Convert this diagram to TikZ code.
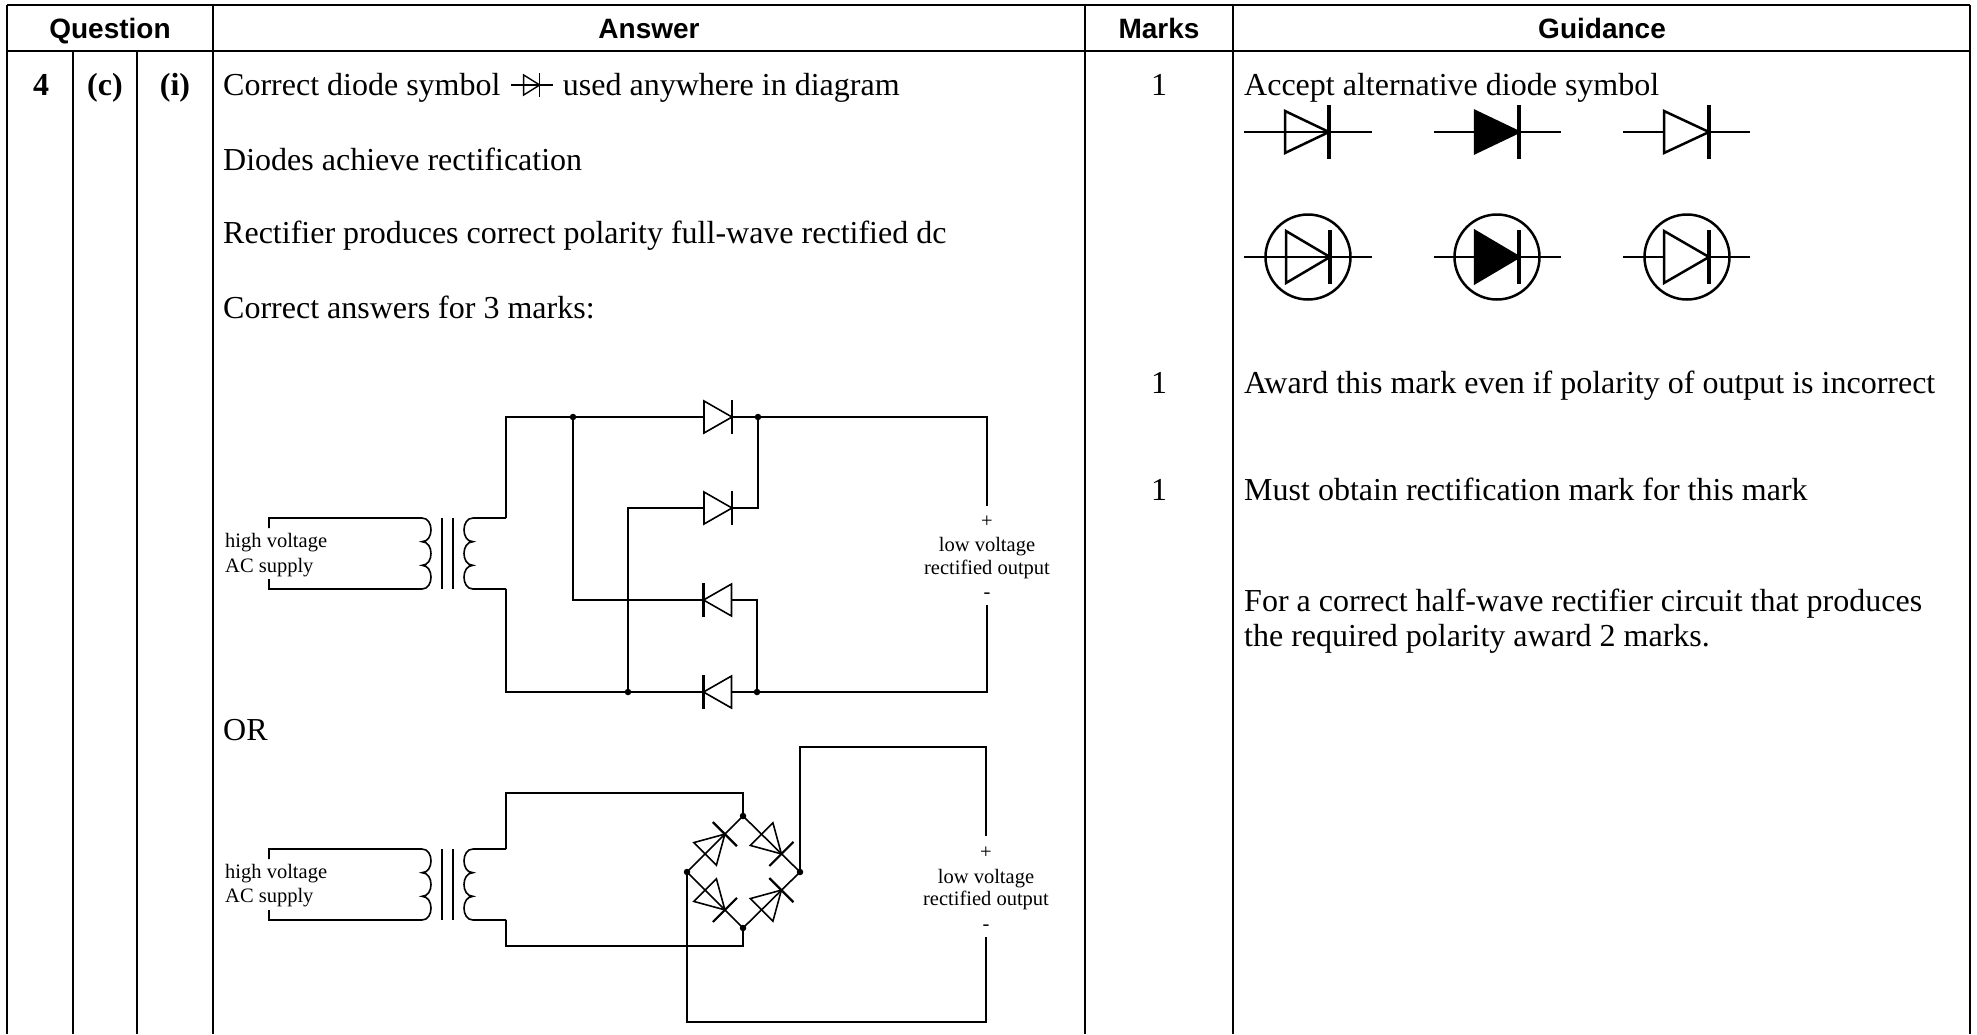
\documentclass[tikz,border=0pt]{standalone}
\usepackage{fontspec}
\setmainfont{Liberation Serif}
\newfontfamily\hdrfont{Liberation Sans}
\usetikzlibrary{calc}
\tikzset{
  pics/cdio/.style={code={
    \draw[line width=1.6pt,line join=miter] (-14,-16) -- (-14,16) -- (14,0) -- cycle;
    \draw[line width=2.2pt] (14,-17) -- (14,17);
  }}
}
\newcommand\drawxfmr[2]{%
  \begin{scope}[shift={(0,#1)}]
    \draw[wire] (269,10) -- (269,0) -- (422,0)
      .. controls (434,0) and (434,23.667) .. (422,23.667)
      .. controls (434,23.667) and (434,47.333) .. (422,47.333)
      .. controls (434,47.333) and (434,71) .. (422,71)
      -- (269,71) -- (269,61);
    \draw[wire] (442,0) -- (442,71);
    \draw[wire] (453,0) -- (453,71);
    \coordinate (#2t) at (506,0);
    \coordinate (#2b) at (506,71);
    \draw[wire] (#2t) -- (473,0)
      .. controls (461,0) and (461,23.667) .. (473,23.667)
      .. controls (461,23.667) and (461,47.333) .. (473,47.333)
      .. controls (461,47.333) and (461,71) .. (473,71)
      -- (#2b);
  \end{scope}}
\begin{document}
\begin{tikzpicture}[x=1pt,y=-1pt,
  tbl/.style={line width=2.2pt},
  wire/.style={line width=1.6pt},
  sym/.style={line width=2.5pt},
  symbar/.style={line width=3.2pt},
  body/.style={font=\fontsize{32}{38}\selectfont,inner sep=0pt,anchor=base west},
  bodyc/.style={font=\fontsize{32}{38}\selectfont,inner sep=0pt,anchor=base},
  bodyb/.style={font=\fontsize{32}{38}\selectfont\bfseries,inner sep=0pt,anchor=base},
  hdr/.style={font=\hdrfont\bfseries\fontsize{28}{32}\selectfont,inner sep=0pt,anchor=base},
  lab/.style={font=\fontsize{20.5}{25}\selectfont,inner sep=0pt},
  jdot/.style={circle,fill,inner sep=0pt,minimum size=6.5pt},
]
\fill[white] (0,0) rectangle (1977,1034);
\useasboundingbox (0,0) rectangle (1977,1034);

% ---------- table ----------
\draw[tbl] (7,5) -- (1970,5);
\draw[tbl] (7,51) -- (1970,51);
\foreach \x in {7,213,1085,1233,1970} \draw[tbl] (\x,5) -- (\x,1034);
\foreach \x in {73,137} \draw[tbl] (\x,51) -- (\x,1034);

\node[hdr] (hq) at (110,38) {Question};
\node[hdr] (ha) at (649,38) {Answer};
\node[hdr] (hm) at (1159,38) {Marks};
\node[hdr] (hg) at (1602,38) {Guidance};

\node[bodyb] (q4) at (41,95) {4};
\node[bodyb] (qc) at (105,95) {(c)};
\node[bodyb] (qi) at (175,95) {(i)};

% ---------- answer text ----------
\node[body] (a1) at (223,95) {Correct diode symbol};
\coordinate (is) at ([xshift=10pt,yshift=10pt]a1.base east);
\coordinate (ie) at ([xshift=42pt]is);
\draw[line width=1.4pt] (is) -- (ie);
\draw[line width=1.4pt] ([xshift=13pt,yshift=10pt]is) -- ([xshift=13pt,yshift=-10pt]is) -- ([xshift=29pt]is) -- cycle;
\draw[line width=1.6pt] ([xshift=29pt,yshift=12pt]is) -- ([xshift=29pt,yshift=-12pt]is);
\node[body] (a1b) at ([xshift=62pt]a1.base east) {used anywhere in diagram};
\node[body] (a2) at (223,170) {Diodes achieve rectification};
\node[body] (a3) at (223,243) {Rectifier produces correct polarity full-wave rectified dc};
\node[body] (a4) at (223,318) {Correct answers for 3 marks:};
\node[body] (aor) at (223,740) {OR};

% ---------- marks ----------
\node[bodyc] (m1) at (1159,95) {1};
\node[bodyc] (m2) at (1159,393) {1};
\node[bodyc] (m3) at (1159,500) {1};

% ---------- guidance ----------
\node[body] (g1) at (1244,95) {Accept alternative diode symbol};
\node[body] (g2) at (1244,393) {Award this mark even if polarity of output is incorrect};
\node[body] (g3) at (1244,500) {Must obtain rectification mark for this mark};
\node[body] (g4) at (1244,611) {For a correct half-wave rectifier circuit that produces};
\node[body] (g5) at (1244,646) {the required polarity award 2 marks.};

% guidance symbols row 1
\draw[sym] (1244,132) -- (1372,132);
\draw[sym] (1285,111) -- (1285,153) -- (1329,132) -- cycle;
\draw[symbar] (1329,105) -- (1329,159);
\draw[sym] (1434,132) -- (1475,132);
\draw[sym] (1519,132) -- (1561,132);
\fill (1475,111) -- (1475,153) -- (1519,132) -- cycle;
\draw[sym] (1475,111) -- (1475,153) -- (1519,132) -- cycle;
\draw[symbar] (1519,105) -- (1519,159);
\draw[sym] (1623,132) -- (1664,132);
\draw[sym] (1709,132) -- (1750,132);
\draw[sym] (1664,111) -- (1664,153) -- (1709,132) -- cycle;
\draw[symbar] (1709,105) -- (1709,159);
% guidance symbols row 2
\draw[sym] (1244,257) -- (1372,257);
\draw[sym] (1308,257) circle[radius=42.5];
\draw[sym] (1286,231) -- (1286,283) -- (1330,257) -- cycle;
\draw[symbar] (1330,230) -- (1330,284);
\draw[sym] (1434,257) -- (1475,257);
\draw[sym] (1519,257) -- (1561,257);
\draw[sym] (1497,257) circle[radius=42.5];
\fill (1475,231) -- (1475,283) -- (1519,257) -- cycle;
\draw[sym] (1475,231) -- (1475,283) -- (1519,257) -- cycle;
\draw[symbar] (1519,230) -- (1519,284);
\draw[sym] (1623,257) -- (1664,257);
\draw[sym] (1709,257) -- (1750,257);
\draw[sym] (1687,257) circle[radius=42.5];
\draw[sym] (1664,231) -- (1664,283) -- (1709,257) -- cycle;
\draw[symbar] (1709,230) -- (1709,284);

% ---------- circuit 1 ----------
\drawxfmr{518}{s1}
\node[lab,anchor=base west] (hv1) at (225,547) {high voltage};
\node[lab,anchor=base west] (ac1) at (225,572) {AC supply};

\coordinate (n1a) at (506,417);
\coordinate (j1a) at (573,417);
\coordinate (d1a) at (704,417);
\coordinate (d1k) at (732,417);
\coordinate (j1b) at (758,417);
\coordinate (o1t) at (987,417);
\coordinate (o1p) at (987,506);
\coordinate (w2) at (628,508);
\coordinate (d2a) at (704,508);
\coordinate (d2k) at (732,508);
\coordinate (j1c) at (758,508);
\coordinate (c3) at (573,600);
\coordinate (d3k) at (703,600);
\coordinate (d3a) at (732,600);
\coordinate (e3) at (757,600);
\coordinate (n1b) at (506,692);
\coordinate (j1d) at (628,692);
\coordinate (d4k) at (703,692);
\coordinate (d4a) at (732,692);
\coordinate (j1e) at (757,692);
\coordinate (o1b) at (987,692);
\coordinate (o1m) at (987,605);

\draw[wire] (s1t) -- (n1a) -- (d1a);
\draw[wire] (d1k) -- (o1t) -- (o1p);
\draw[wire] (j1a) -- (c3) -- (d3k);
\draw[wire] (d3a) -- (e3) -- (j1e);
\draw[wire] (j1b) -- (j1c) -- (d2k);
\draw[wire] (d2a) -- (w2) -- (j1d);
\draw[wire] (s1b) -- (n1b) -- (d4k);
\draw[wire] (d4a) -- (o1b) -- (o1m);
\pic at (718,417) {cdio};
\pic at (718,508) {cdio};
\pic[rotate=180] at (717.5,600) {cdio};
\pic[rotate=180] at (717.5,692) {cdio};
\node[jdot] (dj1a) at (j1a) {};
\node[jdot] (dj1b) at (j1b) {};
\node[jdot] (dj1d) at (j1d) {};
\node[jdot] (dj1e) at (j1e) {};

\node[lab,anchor=base] (pl1) at (987,527) {+};
\node[lab,anchor=base] (lv1) at (987,551) {low voltage};
\node[lab,anchor=base] (ro1) at (987,574) {rectified output};
\node[lab,anchor=base] (mi1) at (987,598) {-};

% ---------- circuit 2 ----------
\drawxfmr{849}{s2}
\node[lab,anchor=base west] (hv2) at (225,878) {high voltage};
\node[lab,anchor=base west] (ac2) at (225,902) {AC supply};

\coordinate (u2) at (506,793);
\coordinate (bt) at (743,793);
\coordinate (B1) at (743,816);
\coordinate (B2) at (800,872);
\coordinate (B3) at (743,928);
\coordinate (B4) at (687,872);
\coordinate (v2) at (506,946);
\coordinate (bb) at (743,946);
\coordinate (r1) at (800,747);
\coordinate (o2t) at (986,747);
\coordinate (o2p) at (986,836);
\coordinate (o2m) at (986,937);
\coordinate (o2b) at (986,1022);
\coordinate (l2) at (687,1022);

\draw[wire] (s2t) -- (u2) -- (bt) -- (B1);
\draw[wire] (s2b) -- (v2) -- (bb) -- (B3);
\draw[wire] (B1) -- (B2) -- (B3) -- (B4) -- cycle;
\draw[wire] (B2) -- (r1) -- (o2t) -- (o2p);
\draw[wire] (o2m) -- (o2b) -- (l2) -- (B4);
\pic[rotate=45] at ($(B4)!0.5!(B1)$) {cdio};
\pic[rotate=-45] at ($(B1)!0.5!(B2)$) {cdio};
\pic[rotate=-45] at ($(B4)!0.5!(B3)$) {cdio};
\pic[rotate=45] at ($(B3)!0.5!(B2)$) {cdio};
\node[jdot] (dB1) at (B1) {};
\node[jdot] (dB2) at (B2) {};
\node[jdot] (dB3) at (B3) {};
\node[jdot] (dB4) at (B4) {};

\node[lab,anchor=base] (pl2) at (986,858) {+};
\node[lab,anchor=base] (lv2) at (986,883) {low voltage};
\node[lab,anchor=base] (ro2) at (986,905) {rectified output};
\node[lab,anchor=base] (mi2) at (986,930) {-};
\end{tikzpicture}
\end{document}
